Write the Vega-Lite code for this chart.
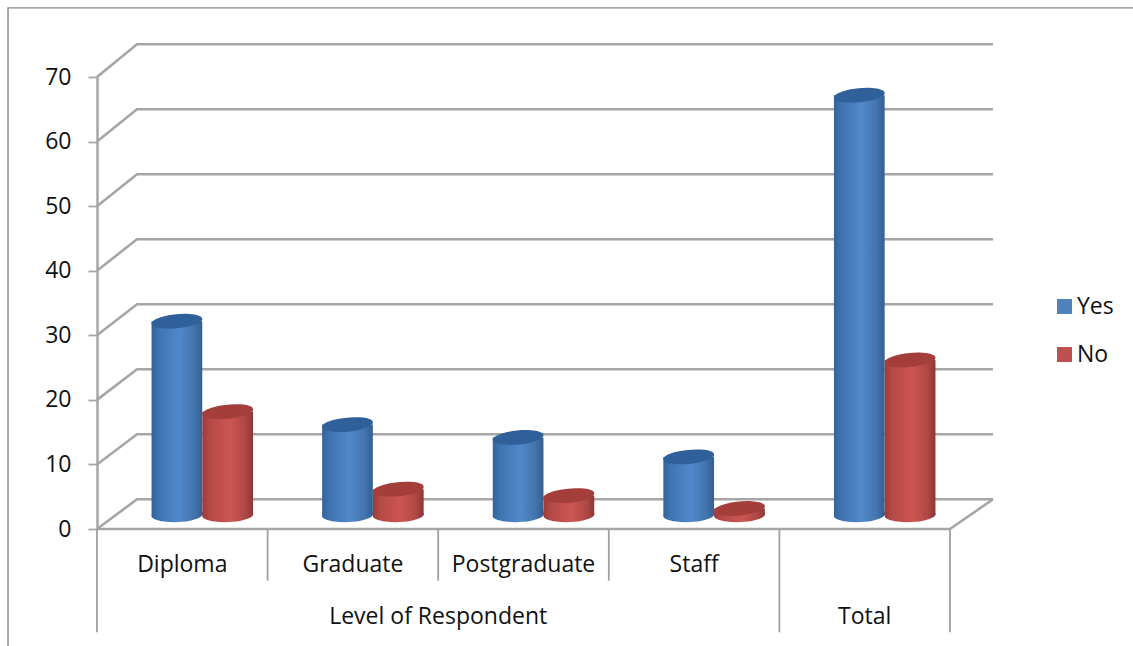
{
  "$schema": "https://vega.github.io/schema/vega-lite/v6.json",
  "width": 1133,
  "height": 646,
  "padding": 0,
  "autosize": "none",
  "background": "white",
  "config": {
    "view": {"stroke": null},
    "font": "Open Sans"
  },
  "datasets": {
    "bars": [
      {"category": "Diploma", "series": "Yes", "value": 30, "base": 0},
      {"category": "Diploma", "series": "No", "value": 16, "base": 0},
      {"category": "Graduate", "series": "Yes", "value": 14, "base": 0},
      {"category": "Graduate", "series": "No", "value": 4, "base": 0},
      {"category": "Postgraduate", "series": "Yes", "value": 12, "base": 0},
      {"category": "Postgraduate", "series": "No", "value": 3, "base": 0},
      {"category": "Staff", "series": "Yes", "value": 9, "base": 0},
      {"category": "Staff", "series": "No", "value": 1, "base": 0},
      {"category": "Total", "series": "Yes", "value": 65, "base": 0},
      {"category": "Total", "series": "No", "value": 24, "base": 0}
    ],
    "walls": [
      {"tick": 0, "pos": 0, "level": 0}, {"tick": 0, "pos": 0.2345, "level": 4.6}, {"tick": 0, "pos": 5.252, "level": 4.6},
      {"tick": 10, "pos": 0, "level": 10}, {"tick": 10, "pos": 0.2345, "level": 14.67}, {"tick": 10, "pos": 5.252, "level": 14.67},
      {"tick": 20, "pos": 0, "level": 20}, {"tick": 20, "pos": 0.2345, "level": 24.73}, {"tick": 20, "pos": 5.252, "level": 24.73},
      {"tick": 30, "pos": 0, "level": 30}, {"tick": 30, "pos": 0.2345, "level": 34.8}, {"tick": 30, "pos": 5.252, "level": 34.8},
      {"tick": 40, "pos": 0, "level": 40}, {"tick": 40, "pos": 0.2345, "level": 44.87}, {"tick": 40, "pos": 5.252, "level": 44.87},
      {"tick": 50, "pos": 0, "level": 50}, {"tick": 50, "pos": 0.2345, "level": 54.94}, {"tick": 50, "pos": 5.252, "level": 54.94},
      {"tick": 60, "pos": 0, "level": 60}, {"tick": 60, "pos": 0.2345, "level": 65}, {"tick": 60, "pos": 5.252, "level": 65},
      {"tick": 70, "pos": 0, "level": 70}, {"tick": 70, "pos": 0.2345, "level": 75.07}, {"tick": 70, "pos": 5.252, "level": 75.07},
      {"tick": -1, "pos": 5, "level": 0}, {"tick": -1, "pos": 5.252, "level": 4.6},
      {"tick": -2, "pos": 0, "level": 0}, {"tick": -2, "pos": 5, "level": 0}
    ],
    "dividers": [
      {"pos": 0, "top": 0, "low": -16}, {"pos": 1, "top": 0, "low": -8}, {"pos": 2, "top": 0, "low": -8},
      {"pos": 3, "top": 0, "low": -8}, {"pos": 4, "top": 0, "low": -16}, {"pos": 5, "top": 0, "low": -16}
    ],
    "labels": [
      {"label": "Diploma", "pos": 0.5, "level": -5.6},
      {"label": "Graduate", "pos": 1.5, "level": -5.6},
      {"label": "Postgraduate", "pos": 2.5, "level": -5.6},
      {"label": "Staff", "pos": 3.5, "level": -5.6},
      {"label": "Level of Respondent", "pos": 2, "level": -13.6},
      {"label": "Total", "pos": 4.5, "level": -13.6}
    ],
    "frame": [
      {"pos": 6.09, "level": 80.7, "order": 0},
      {"pos": -0.5216, "level": 80.7, "order": 1},
      {"pos": -0.5216, "level": -18.2, "order": 2}
    ]
  },
  "resolve": {"scale": {"x": "independent"}},
  "layer": [
    {
      "layer": [
        {
          "data": {"name": "frame"},
          "mark": {"type": "line", "color": "#868686", "strokeWidth": 1.4},
          "encoding": {
            "x": {"field": "pos", "type": "quantitative", "axis": null, "scale": {"domain": [0, 5], "range": [97, 950], "zero": false, "nice": false}},
            "y": {
              "field": "level", "type": "quantitative",
              "scale": {"domain": [0, 70], "range": [529, 77], "zero": false, "nice": false},
              "axis": {
                "title": null, "offset": -97, "grid": false, "values": [0, 10, 20, 30, 40, 50, 60, 70],
                "domainColor": "#a6a6a6", "domainWidth": 2.5, "tickColor": "#a6a6a6", "tickWidth": 1.8, "tickSize": 9,
                "labelFont": "Open Sans", "labelFontSize": 23, "labelColor": "#111111", "labelPadding": 17
              }
            },
            "order": {"field": "order", "type": "quantitative"}
          }
        },
        {
          "data": {"name": "walls"},
          "mark": {"type": "line", "color": "#a6a6a6", "strokeWidth": 2.6},
          "encoding": {
            "x": {"field": "pos", "type": "quantitative", "axis": null},
            "y": {"field": "level", "type": "quantitative"},
            "detail": {"field": "tick", "type": "nominal"}
          }
        },
        {
          "data": {"name": "dividers"},
          "mark": {"type": "rule", "color": "#a0a0a0", "strokeWidth": 1.8},
          "encoding": {
            "x": {"field": "pos", "type": "quantitative", "axis": null},
            "y": {"field": "top", "type": "quantitative"},
            "y2": {"field": "low"}
          }
        },
        {
          "data": {"name": "labels"},
          "mark": {"type": "text", "font": "Open Sans", "fontSize": 23, "color": "#111111", "align": "center", "baseline": "middle"},
          "encoding": {
            "x": {"field": "pos", "type": "quantitative", "axis": null},
            "y": {"field": "level", "type": "quantitative"},
            "text": {"field": "label", "type": "nominal"}
          }
        }
      ]
    },
    {
      "data": {"name": "bars"},
      "layer": [
        {
          "mark": {"type": "point", "filled": true, "opacity": 1, "size": 100, "yOffset": -16, "shape": "M-0.999,0.035A1,0.27,-2,1,1,0.999,-0.035A1,0.27,-2,1,1,-0.999,0.035Z"},
          "encoding": {
            "x": {"field": "category", "type": "nominal", "axis": null, "sort": null, "scale": {"range": [117, 970], "paddingInner": 0.405, "paddingOuter": 0.2025}},
            "y": {"datum": 0, "type": "quantitative"},
            "color": {
              "field": "series", "type": "nominal",
              "scale": {"domain": ["Yes", "No"], "range": ["#4f81bd", "#c0504d"]},
              "legend": {
                "title": null, "orient": "none", "legendX": 1053, "legendY": 295, "symbolType": "square", "symbolSize": 225,
                "symbolStrokeWidth": 0, "labelFont": "Open Sans", "labelFontSize": 23, "labelColor": "#111111", "labelOffset": 1, "rowPadding": 24
              }
            }
          }
        },
        {
          "transform": [{"filter": "datum.series === 'Yes'"}],
          "layer": [
            {
              "mark": {"type": "point", "filled": true, "opacity": 1, "size": 2600, "xOffset": -25.4, "yOffset": -14, "shape": "M-0.999,0.035A1,0.27,-2,1,1,0.999,-0.035A1,0.27,-2,1,1,-0.999,0.035Z",
                "color": {"gradient": "linear", "x1": 0, "y1": 0, "x2": 1, "y2": 0, "stops": [{"offset": 0, "color": "#33639c"}, {"offset": 0.15, "color": "#3f74b2"}, {"offset": 0.55, "color": "#5289cb"}, {"offset": 0.85, "color": "#4273ab"}, {"offset": 1, "color": "#335f93"}]}},
              "encoding": {"x": {"field": "category", "type": "nominal", "axis": null, "sort": null}, "y": {"datum": 0, "type": "quantitative"}}
            },
            {
              "mark": {"type": "bar", "width": 50.7, "xOffset": -25.4, "yOffset": -14, "y2Offset": -14,
                "color": {"gradient": "linear", "x1": 0, "y1": 0, "x2": 1, "y2": 0, "stops": [{"offset": 0, "color": "#33639c"}, {"offset": 0.15, "color": "#3f74b2"}, {"offset": 0.55, "color": "#5289cb"}, {"offset": 0.85, "color": "#4273ab"}, {"offset": 1, "color": "#335f93"}]}},
              "encoding": {"x": {"field": "category", "type": "nominal", "axis": null, "sort": null}, "y": {"field": "value", "type": "quantitative", "stack": null}, "y2": {"field": "base"}}
            },
            {
              "mark": {"type": "point", "filled": true, "opacity": 1, "color": "#2f6099", "size": 2600, "xOffset": -25.4, "yOffset": -14, "shape": "M-0.995,0.0976A1,0.27,-5.6,1,1,0.995,-0.0976A1,0.27,-5.6,1,1,-0.995,0.0976Z"},
              "encoding": {"x": {"field": "category", "type": "nominal", "axis": null, "sort": null}, "y": {"field": "value", "type": "quantitative"}}
            }
          ]
        },
        {
          "transform": [{"filter": "datum.series === 'No'"}],
          "layer": [
            {
              "mark": {"type": "point", "filled": true, "opacity": 1, "size": 2600, "xOffset": 25.4, "yOffset": -14, "shape": "M-0.999,0.035A1,0.27,-2,1,1,0.999,-0.035A1,0.27,-2,1,1,-0.999,0.035Z",
                "color": {"gradient": "linear", "x1": 0, "y1": 0, "x2": 1, "y2": 0, "stops": [{"offset": 0, "color": "#9a3b39"}, {"offset": 0.15, "color": "#b54a48"}, {"offset": 0.55, "color": "#cd5552"}, {"offset": 0.85, "color": "#ae4745"}, {"offset": 1, "color": "#8c3735"}]}},
              "encoding": {"x": {"field": "category", "type": "nominal", "axis": null, "sort": null}, "y": {"datum": 0, "type": "quantitative"}}
            },
            {
              "mark": {"type": "bar", "width": 50.7, "xOffset": 25.4, "yOffset": -14, "y2Offset": -14,
                "color": {"gradient": "linear", "x1": 0, "y1": 0, "x2": 1, "y2": 0, "stops": [{"offset": 0, "color": "#9a3b39"}, {"offset": 0.15, "color": "#b54a48"}, {"offset": 0.55, "color": "#cd5552"}, {"offset": 0.85, "color": "#ae4745"}, {"offset": 1, "color": "#8c3735"}]}},
              "encoding": {"x": {"field": "category", "type": "nominal", "axis": null, "sort": null}, "y": {"field": "value", "type": "quantitative", "stack": null}, "y2": {"field": "base"}}
            },
            {
              "mark": {"type": "point", "filled": true, "opacity": 1, "color": "#a33e3b", "size": 2600, "xOffset": 25.4, "yOffset": -14, "shape": "M-0.995,0.0976A1,0.27,-5.6,1,1,0.995,-0.0976A1,0.27,-5.6,1,1,-0.995,0.0976Z"},
              "encoding": {"x": {"field": "category", "type": "nominal", "axis": null, "sort": null}, "y": {"field": "value", "type": "quantitative"}}
            }
          ]
        }
      ]
    }
  ]
}
